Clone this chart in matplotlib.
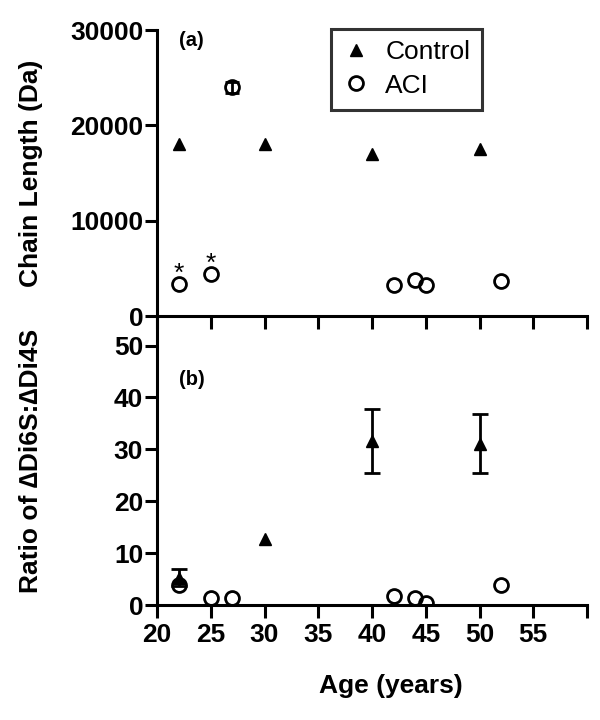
import matplotlib
matplotlib.use('Agg')
import matplotlib.pyplot as plt

plt.rcParams['font.family'] = ['Liberation Sans', 'DejaVu Sans']

# ages (years)
ctrl_age = [22, 30, 40, 50]
aci_age = [22, 25, 27, 42, 44, 45, 52]

# (a) chain length (Da)
ctrl_len = [18000, 18000, 17000, 17500]
aci_len = [3400, 4400, 24000, 3300, 3800, 3300, 3700]
aci_len_err = [0, 0, 600, 0, 0, 0, 0]
star_age = [22, 25]
star_len = [3400, 4400]

# (b) ratio of dDi6S:dDi4S
ctrl_ratio = [5.3, 12.7, 31.6, 31.1]
ctrl_ratio_err = [1.6, 0, 6.2, 5.7]
aci_ratio = [3.9, 1.3, 1.3, 1.8, 1.35, 0.45, 3.9]

lw = 2.2
fs = 19


def with_err(xs, ys, es):
    # only points that really have an error bar
    sel = [(x, y, e) for x, y, e in zip(xs, ys, es) if e > 0]
    return [s[0] for s in sel], [s[1] for s in sel], [s[2] for s in sel]


fig = plt.figure(figsize=(6, 7.2), dpi=100)
ax2 = fig.add_axes([0.2617, 0.1597, 0.7167, 0.4014])
ax1 = fig.add_axes([0.2617, 0.5611, 0.7167, 0.3972])
ax1.patch.set_visible(False)

# top panel
ax1.plot(ctrl_age, ctrl_len, '^', color='black', markersize=8, label='Control', zorder=3)
ex, ey, ee = with_err(aci_age, aci_len, aci_len_err)
ax1.errorbar(ex, ey, yerr=ee, fmt='none', ecolor='black', elinewidth=2,
             capsize=5, capthick=2, zorder=3)
ax1.plot(aci_age, aci_len, 'o', mfc='none', mec='black', mew=2, markersize=10,
         label='ACI', zorder=4)
for a, v in zip(star_age, star_len):
    ax1.annotate('*', (a, v), xytext=(0, 7), textcoords='offset points',
                 ha='center', va='center', fontsize=19)

ax1.set_xlim(20, 60)
ax1.set_ylim(0, 30000)
ax1.set_yticks([0, 10000, 20000, 30000])
ax1.set_xticks(range(20, 61, 5))
ax1.set_xticklabels([])
ax1.set_ylabel('Chain Length (Da)', fontsize=fs, fontweight='bold')
ax1.yaxis.set_label_coords(-0.265, 0.5)
ax1.text(0.05, 0.995, '(a)', transform=ax1.transAxes, fontsize=14.5,
         fontweight='bold', va='top', ha='left')
leg = ax1.legend(loc='upper left', bbox_to_anchor=(0.405, 1.005), fontsize=19,
                 frameon=True, fancybox=False, edgecolor='black', handletextpad=0.6,
                 borderpad=0.45, labelspacing=0.35, handlelength=1.0,
                 borderaxespad=0)
leg.get_frame().set_linewidth(2.2)

# bottom panel
ax2.plot(ctrl_age, ctrl_ratio, '^', color='black', markersize=8, zorder=3)
ex, ey, ee = with_err(ctrl_age, ctrl_ratio, ctrl_ratio_err)
ax2.errorbar(ex, ey, yerr=ee, fmt='none', ecolor='black', elinewidth=2,
             capsize=6, capthick=2, zorder=3)
ax2.plot(aci_age, aci_ratio, 'o', mfc='none', mec='black', mew=2, markersize=10, zorder=4)
ax2.set_xlim(20, 60)
ax2.set_ylim(0, 55.7)
ax2.set_yticks(range(0, 51, 10))
ax2.set_xticks(range(20, 61, 5))
ax2.set_xticklabels(['20', '25', '30', '35', '40', '45', '50', '55', ''])
ax2.set_xlabel('Age (years)', fontsize=fs, fontweight='bold')
ax2.xaxis.set_label_coords(0.544, -0.24)
ax2.set_ylabel('Ratio of \u2206Di6S:\u2206Di4S', fontsize=fs, fontweight='bold')
ax2.yaxis.set_label_coords(-0.265, 0.5)
ax2.text(0.05, 0.78, '(b)', transform=ax2.transAxes, fontsize=14.5,
         fontweight='bold', va='center', ha='left')

for ax in (ax1, ax2):
    ax.spines['right'].set_visible(False)
    ax.spines['top'].set_visible(False)
    ax.spines['left'].set_linewidth(lw)
    ax.spines['bottom'].set_linewidth(lw)
    ax.tick_params(direction='out', length=9, width=lw, labelsize=fs, pad=1)
    for lab in ax.get_xticklabels() + ax.get_yticklabels():
        lab.set_fontweight('bold')
ax2.tick_params(axis='x', pad=4)

fig.savefig('out.png', dpi=100)
